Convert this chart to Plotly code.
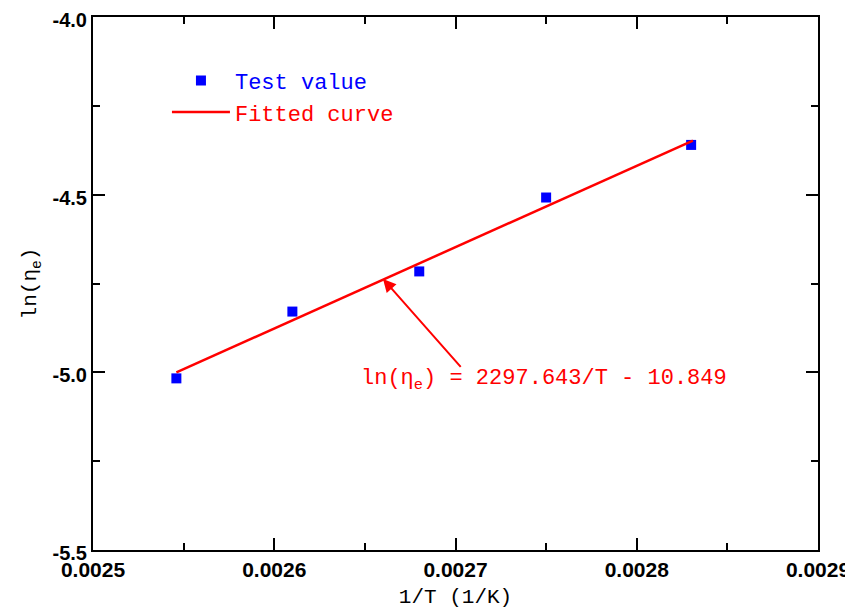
import plotly.graph_objects as go

# Data
inv_T = [0.002546, 0.002610, 0.002680, 0.002750, 0.002830]
ln_eta = [-5.017, -4.829, -4.716, -4.508, -4.360]

fit_x = [0.002546, 0.002831]
fit_y = [-5.000, -4.348]

x_ticks = [0.0025, 0.0026, 0.0027, 0.0028, 0.0029]
x_tick_labels = ["0.0025", "0.0026", "0.0027", "0.0028", "0.0029"]
y_ticks = [-5.5, -5.0, -4.5, -4.0]
y_tick_labels = ["-5.5", "-5.0", "-4.5", "-4.0"]

arrow_head = (0.00266, -4.737)
arrow_tail = (0.0027036, -4.989)
eq_pos = (0.0026470, -5.022)
eq_text = "ln(η<sub>e</sub>) = 2297.643/T - 10.849"

MONO = "Liberation Mono"
SANS = "Liberation Sans"

fig = go.Figure()
fig.add_trace(go.Scatter(
    x=inv_T, y=ln_eta, mode="markers",
    name="<span style='color:#0000FF'>Test value</span>",
    marker=dict(symbol="square", size=10, color="#0000FF", line=dict(width=0)),
))
fig.add_trace(go.Scatter(
    x=fit_x, y=fit_y, mode="lines",
    name="<span style='color:#FF0000'>Fitted curve</span>",
    line=dict(color="#FF0000", width=2.5),
))

fig.add_annotation(
    x=arrow_head[0], y=arrow_head[1], ax=arrow_tail[0], ay=arrow_tail[1],
    xref="x", yref="y", axref="x", ayref="y", text="",
    showarrow=True, arrowhead=2, arrowsize=1.3, arrowwidth=2, arrowcolor="#FF0000",
)
fig.add_annotation(
    x=eq_pos[0], y=eq_pos[1], xref="x", yref="y", text=eq_text,
    showarrow=False, xanchor="left", yanchor="middle",
    font=dict(family=MONO, size=22, color="#FF0000"),
)

axis_common = dict(
    showline=True, linecolor="black", linewidth=2, mirror="ticks",
    ticks="inside", ticklen=12, tickwidth=2, tickcolor="black",
    showgrid=False, zeroline=False, automargin=False,
    ticklabeloverflow="allow",
)

fig.update_xaxes(
    range=[0.0025, 0.0029], tickvals=x_ticks, ticktext=x_tick_labels,
    tickfont=dict(family=SANS, size=21, color="black", weight="bold"),
    minor=dict(ticks="inside", ticklen=7, tickwidth=2, tickcolor="black", dtick=0.00005),
    title=dict(text="1/T (1/K)", font=dict(family=MONO, size=21, color="black"), standoff=8),
    **axis_common,
)
fig.update_yaxes(
    range=[-5.5, -4.0], tickvals=y_ticks, ticktext=y_tick_labels,
    tickfont=dict(family=SANS, size=20, color="black", weight="bold"),
    ticklabelshift=3,
    minor=dict(ticks="inside", ticklen=7, tickwidth=2, tickcolor="black", dtick=0.25),
    title=dict(text="ln(η<sub>e</sub>)", font=dict(family=MONO, size=21, color="black"), standoff=10),
    **axis_common,
)

# The page body has a default margin; the figure size compensates for it.
fig.update_layout(
    width=845, height=603,
    margin=dict(l=85, r=35, t=9, b=61),
    paper_bgcolor="white", plot_bgcolor="white",
    showlegend=True,
    legend=dict(
        x=0.102, y=0.92, xanchor="left", yanchor="top",
        bgcolor="rgba(0,0,0,0)", borderwidth=0,
        font=dict(family=MONO, size=22, color="black"),
        itemwidth=58, tracegroupgap=0,
    ),
)

fig.write_html("out.html")
